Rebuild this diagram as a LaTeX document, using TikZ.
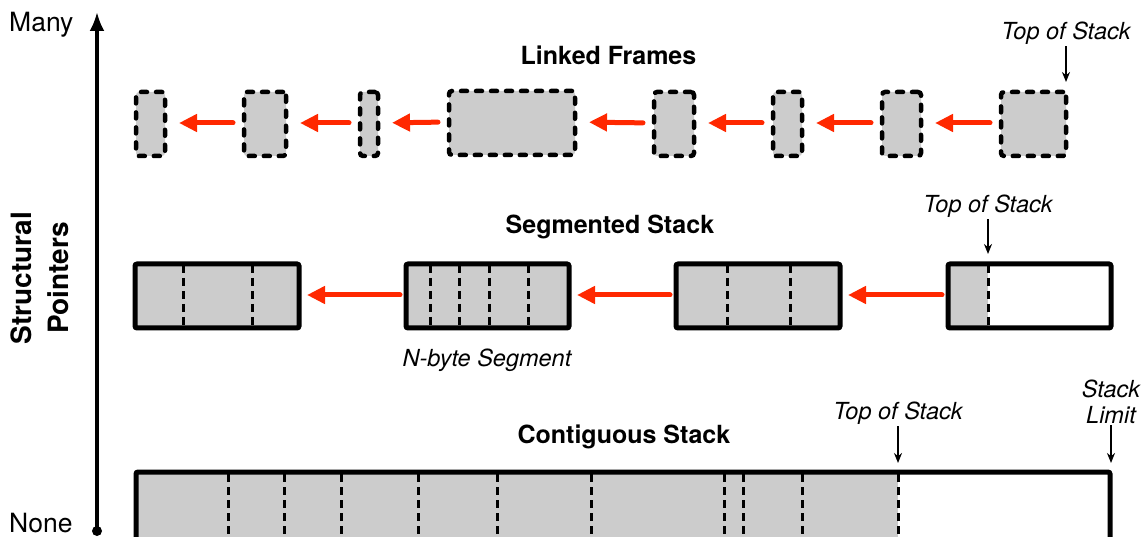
\documentclass[tikz,border=0pt]{standalone}
\usepackage{fontspec}
\setmainfont{TeX Gyre Heros}
\usetikzlibrary{arrows.meta}
\definecolor{fillgray}{RGB}{204,204,204}
\definecolor{arrred}{RGB}{255,40,0}
\begin{document}
\begin{tikzpicture}[x=1pt,y=-1pt,
 frame/.style={draw, fill=fillgray, line width=4.5pt, dash pattern=on 6pt off 9pt, line cap=round, rounded corners=3pt, minimum height=64pt, inner sep=0pt, outer sep=0pt},
 segbox/.style={draw, line width=5pt, rounded corners=2pt, minimum height=64pt, inner sep=0pt, outer sep=0pt},
 div/.style={line width=3pt, dash pattern=on 8pt off 5pt},
 link/.style={draw=arrred, line width=5pt, line cap=round, -{Triangle[length=18pt,width=17pt]}},
 ptr/.style={line width=1.8pt, -{Stealth[length=10pt,width=8pt]}},
 title/.style={font=\fontsize{25}{28}\selectfont\bfseries, inner sep=1pt},
 lbl/.style={font=\fontsize{23.5}{24}\selectfont\itshape, align=center, inner sep=1pt},
 lbltwo/.style={font=\fontsize{23.5}{26}\selectfont\itshape, align=center, inner sep=1pt},
 plain/.style={font=\fontsize{26.5}{30}\selectfont, inner sep=0pt},
]
\useasboundingbox (0,0) rectangle (1144,537);

% axis
\coordinate (abot) at (97,531);
\coordinate (atop) at (97,12);
\draw[line width=3.5pt, -{Latex[length=19pt,width=15pt]}] (abot) -- (atop);
\fill (abot) circle (5pt);
\node[plain, anchor=base west] (many) at (9,32) {Many};
\node[plain, anchor=base west] (none) at (9,532) {None};
\node[rotate=90, font=\fontsize{28}{37}\selectfont\bfseries, align=center] (sp) at (40,278) {Structural\\Pointers};

% Linked frames
\node[title, anchor=base] (lt) at (608.5,65) {Linked Frames};
\node[frame, minimum width=29pt] (f1) at (150.5,124) {};
\node[frame, minimum width=42pt] (f2) at (265,124) {};
\node[frame, minimum width=18pt] (f3) at (369,124) {};
\node[frame, minimum width=126pt] (f4) at (512,123) {};
\node[frame, minimum width=40pt] (f5) at (674,124) {};
\node[frame, minimum width=29pt] (f6) at (787.5,124) {};
\node[frame, minimum width=39pt] (f7) at (901.5,124) {};
\node[frame, minimum width=65pt] (f8) at (1033.5,124) {};
\foreach \a/\b in {f2/f1,f3/f2,f4/f3,f5/f4,f6/f5,f7/f6,f8/f7}
  \draw[link, shorten <=11pt, shorten >=14pt] ([yshift=1pt]\a.west) -- ([yshift=1pt]\b.east);
\node[lbl, anchor=base] (t1) at (1066,40) {Top of Stack};
\draw[ptr, shorten >=10pt] (t1.south) -- (t1.south |- f8.north);

% Segmented stack
\node[title, anchor=base] (st) at (610,234) {Segmented Stack};
\fill[fillgray] (947,263) rectangle (988,329);
\node[segbox, fill=fillgray, minimum width=164pt] (s1) at (217,296) {};
\node[segbox, fill=fillgray, minimum width=163pt] (s2) at (487.5,296) {};
\node[segbox, fill=fillgray, minimum width=164pt] (s3) at (758,296) {};
\node[segbox, minimum width=163pt] (s4) at (1029.5,296) {};
\foreach \x in {183,252,430,459,489,528,727,790,988}
  \draw[div] (\x,265) -- (\x,327);
\foreach \a/\b in {s2/s1,s3/s2,s4/s3}
  \draw[link, shorten <=6pt, shorten >=8pt] ([yshift=1pt]\a.west) -- ([yshift=1pt]\b.east);
\node[lbl, anchor=base] (t2) at (988,213) {Top of Stack};
\draw[ptr, shorten >=10pt] (t2.south) -- (t2.south |- s4.north);
\node[lbl, anchor=base] (nb) at (487,367) {N-byte Segment};

% Contiguous stack
\node[title, anchor=base] (ct) at (624,443) {Contiguous Stack};
\fill[fillgray] (135,471) rectangle (898,571);
\node[segbox, minimum width=974pt, minimum height=100pt] (c) at (623,522) {};
\foreach \x in {228,284,341,418,497,591,724,743,802,898}
  \draw[div] (\x,474) -- (\x,571);
\node[lbl, anchor=base] (t3) at (898,420) {Top of Stack};
\draw[ptr, shorten >=9pt] (t3.south) -- (t3.south |- c.north);
\node[lbltwo, anchor=south] (sl) at (1111,425) {Stack\\Limit};
\draw[ptr, shorten >=9pt] (sl.south) -- (sl.south |- c.north);
\end{tikzpicture}
\end{document}
